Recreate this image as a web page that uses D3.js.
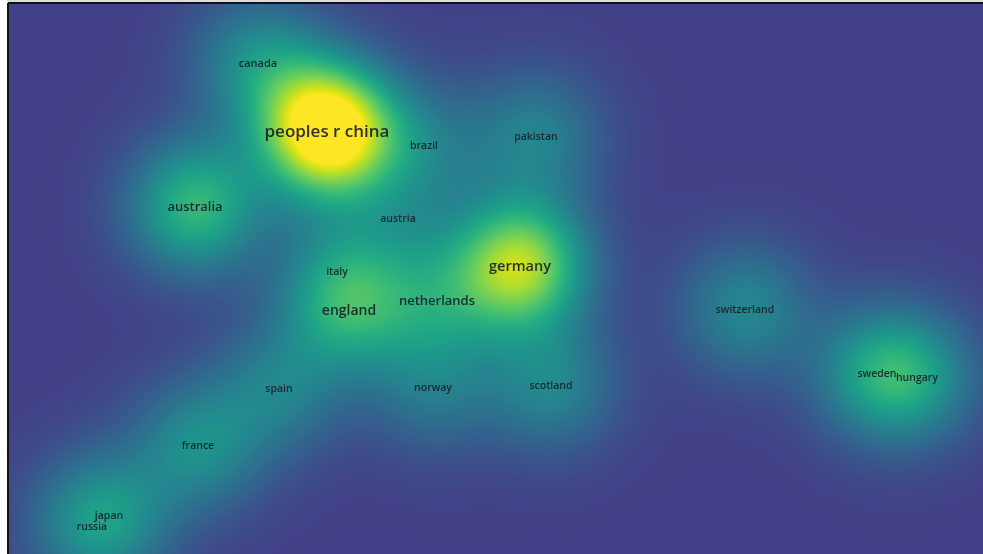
<!DOCTYPE html>
<html>
<head>
<meta charset="utf-8">
<script src="https://cdn.jsdelivr.net/npm/d3@7"></script>
<style>
  html, body { margin: 0; padding: 0; background: #fff; }
  #wrap { position: relative; width: 983px; height: 554px; overflow: hidden; }
  #wrap canvas, #wrap svg { position: absolute; left: 0; top: 0; }
  .lbl { font-family: "Open Sans", sans-serif; font-weight: 600; fill: #1a2029; fill-opacity: 0.92; text-anchor: middle; dominant-baseline: central; }
</style>
</head>
<body>
<div id="wrap">
  <canvas id="dens" width="983" height="554"></canvas>
  <svg id="svg" width="983" height="554"></svg>
</div>
<script>
// items of the density map (coordinates in map units, weight = occurrences)
const countries = ["canada", "peoples r china", "brazil", "pakistan", "australia", "austria",
  "germany", "italy", "netherlands", "england", "switzerland", "spain", "norway",
  "scotland", "sweden", "hungary", "france", "japan", "russia"];
const xs = [249, 318, 415, 527, 186, 389, 511, 328, 428, 340, 736, 270, 424, 542, 868, 908, 189, 100, 83];
const ys = [58, 126, 141, 132, 202, 214, 261, 267, 296, 305, 305, 384, 383, 381, 369, 373, 441, 511, 522];
const weights = [0.36, 1.2, 0.22, 0.3, 0.58, 0.14, 0.84, 0.2, 0.3, 0.42, 0.33, 0.28, 0.24, 0.32, 0.38, 0.3, 0.36, 0.24, 0.24];
const labelSizes = [11, 17, 10.5, 10.5, 13, 10.5, 14.5, 10.5, 13, 14, 10.5, 10.5, 10.5, 10.5, 10.5, 10.5, 10.5, 10.5, 10.5];

const W = 983, H = 554;
const margin = {top: 4, right: 0, bottom: 0, left: 9};

const x = d3.scaleLinear().domain([0, 974]).range([margin.left, W - margin.right]);
const y = d3.scaleLinear().domain([0, 550]).range([margin.top, H - margin.bottom]);

const sigma = 46;
const color = d3.scaleSequential(t => d3.interpolateViridis(0.19 + 0.81 * t)).domain([0, 1]).clamp(true);

// density surface
const canvas = document.getElementById("dens");
const ctx = canvas.getContext("2d");
const pw = W - margin.left, ph = H - margin.top;
const img = ctx.createImageData(pw, ph);
const pts = countries.map((c, i) => ({px: x(xs[i]), py: y(ys[i]), w: weights[i]}));
const k = 1 / (2 * sigma * sigma);
for (let j = 0; j < ph; j++) {
  const py = j + margin.top;
  for (let i = 0; i < pw; i++) {
    const px = i + margin.left;
    let d = 0;
    for (const p of pts) {
      const dx = px - p.px, dy = py - p.py;
      d += p.w * Math.exp(-(dx * dx + dy * dy) * k);
    }
    const c = d3.rgb(color(d));
    const o = (j * pw + i) * 4;
    img.data[o] = c.r; img.data[o + 1] = c.g; img.data[o + 2] = c.b; img.data[o + 3] = 255;
  }
}
ctx.putImageData(img, margin.left, margin.top);

const svg = d3.select("#svg");

// frame
svg.append("line").attr("x1", margin.left - 1).attr("x2", margin.left - 1)
  .attr("y1", margin.top - 1).attr("y2", H).attr("stroke", "#111").attr("stroke-width", 2);
svg.append("line").attr("x1", margin.left - 1).attr("x2", W)
  .attr("y1", margin.top - 1).attr("y2", margin.top - 1).attr("stroke", "#111").attr("stroke-width", 2);
svg.append("line").attr("x1", margin.left - 2).attr("x2", W)
  .attr("y1", margin.top - 3).attr("y2", margin.top - 3).attr("stroke", "#bbb").attr("stroke-width", 1);

// labels
svg.selectAll("text.lbl")
  .data(countries)
  .join("text")
  .attr("class", "lbl")
  .attr("x", (d, i) => x(xs[i]))
  .attr("y", (d, i) => y(ys[i]))
  .attr("font-size", (d, i) => labelSizes[i] + "px")
  .text(d => d);
</script>
</body>
</html>
